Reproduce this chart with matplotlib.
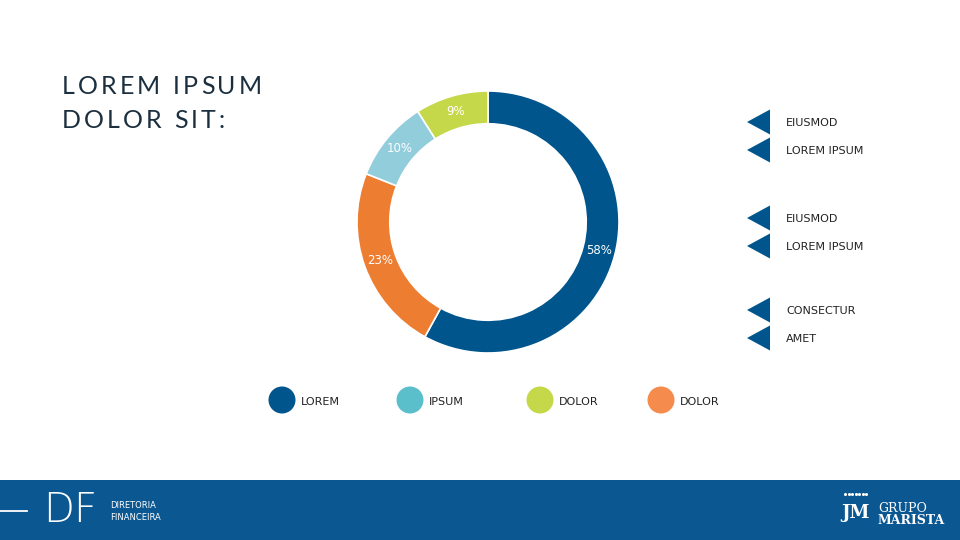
import matplotlib
matplotlib.use("Agg")
import matplotlib.pyplot as plt
from matplotlib.patches import Polygon, Circle, Rectangle
from matplotlib.transforms import offset_copy

# ---- data ----
ring_values = [58, 23, 10, 9]
ring_labels = ["58%", "23%", "10%", "9%"]
ring_colors = ["#00558C", "#ED7D31", "#92CDDC", "#C5D84A"]

legend_names = ["LOREM", "IPSUM", "DOLOR", "DOLOR"]
legend_colors = ["#00558C", "#5BBFCB", "#C5D84A", "#F58B4C"]

side_labels = ["EIUSMOD", "LOREM IPSUM", "EIUSMOD", "LOREM IPSUM", "CONSECTUR", "AMET"]
side_y = [122, 150, 218, 246, 310, 338]
legend_x = [282, 410, 540, 661]

title_lines = ["LOREM IPSUM", "DOLOR SIT:"]

W, H = 960, 540
fig = plt.figure(figsize=(9.6, 5.4), dpi=100)
fig.patch.set_facecolor("white")

bg = fig.add_axes([0, 0, 1, 1])
bg.set_xlim(0, W)
bg.set_ylim(H, 0)
bg.axis("off")

renderer = fig.canvas.get_renderer()


def spaced_text(x, y, s, tracking_px, **kw):
    """Draw a string with extra letter spacing (one text per glyph)."""
    trans = bg.transData
    dx = 0.0
    for ch in s:
        t = bg.text(x, y, ch, transform=offset_copy(trans, fig=fig, x=dx * 72 / fig.dpi,
                                                     y=0, units="points"), **kw)
        if ch == " ":
            probe = bg.text(0, 0, "n", **kw)
            w = 0.5 * probe.get_window_extent(renderer).width
            probe.remove()
        else:
            w = t.get_window_extent(renderer).width
        dx += w + tracking_px


title_kw = dict(fontsize=18, color="#1B2F3F", family="Lato", va="center", ha="left")
spaced_text(62, 86, title_lines[0], 3.0, **title_kw)
spaced_text(62, 120, title_lines[1], 3.0, **title_kw)

# side triangles and labels
for y, lab in zip(side_y, side_labels):
    bg.add_patch(Polygon([[747, y], [770, y - 12.5], [770, y + 12.5]], closed=True,
                         facecolor="#00558C", edgecolor="none"))
    bg.text(786, y + 1, lab, fontsize=8, color="#222222", va="center", ha="left",
            family="DejaVu Sans")

# legend circles
for x, name, c in zip(legend_x, legend_names, legend_colors):
    bg.add_patch(Circle((x, 400), 13.5, facecolor=c, edgecolor="none"))
    bg.text(x + 19, 402, name, fontsize=8, color="#222222", va="center", ha="left",
            family="DejaVu Sans")

# footer band
bg.add_patch(Rectangle((0, 480), W, 60, facecolor="#0B5792", edgecolor="none"))
bg.plot([0, 27], [511, 511], color="white", lw=1.3)
bg.text(43, 511, "DF", fontsize=29, color="white", va="center", ha="left",
        family="DejaVu Sans", fontweight="ultralight")
bg.text(110, 505, "DIRETORIA", fontsize=6, color="white", va="center", ha="left")
bg.text(110, 517, "FINANCEIRA", fontsize=6, color="white", va="center", ha="left")
bg.text(856, 513, "JM", fontsize=13, color="white", va="center", ha="center",
        family="DejaVu Serif", fontweight="bold")
for i in range(7):
    bg.plot(845 + i * 3.5, 494, marker="o", ms=1.2, color="white")
bg.text(878, 508, "GRUPO", fontsize=9, color="white", va="center", ha="left",
        family="DejaVu Serif")
bg.text(878, 521, "MARISTA", fontsize=9, color="white", va="center", ha="left",
        family="DejaVu Serif", fontweight="bold")

# donut axes
cx, cy, R = 488, 222, 131
ax = fig.add_axes([(cx - R) / W, (H - cy - R) / H, 2 * R / W, 2 * R / H])
wedges, texts, autotexts = ax.pie(
    ring_values, colors=ring_colors, startangle=90, counterclock=False,
    radius=1.0, autopct=lambda p: "", pctdistance=0.875,
    wedgeprops=dict(width=0.25, edgecolor="white", linewidth=1.2))
for t, lab in zip(autotexts, ring_labels):
    t.set_text(lab)
    t.set_color("white")
    t.set_fontsize(8.5)
ax.set_xlim(-1, 1)
ax.set_ylim(-1, 1)
ax.set_aspect("equal")
ax.axis("off")

fig.savefig("out.png", dpi=100)
